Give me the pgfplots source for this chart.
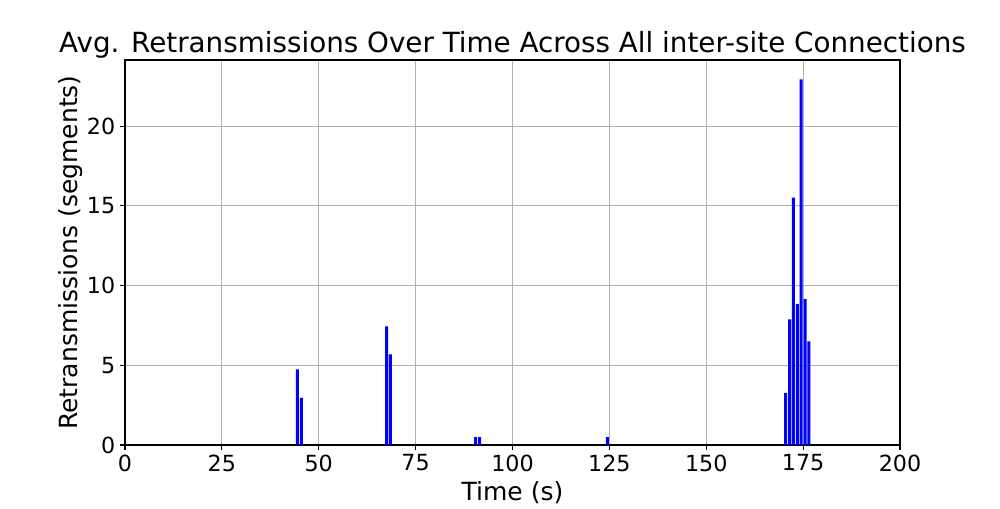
\documentclass[border=0pt]{standalone}
\usepackage{pgfplots}
\pgfplotsset{compat=1.18}
\usepackage{fontspec}
\setmainfont{DejaVu Sans}
\definecolor{gridgray}{HTML}{B0B0B0}
\begin{document}
\begin{tikzpicture}
\begin{axis}[
  name=ax,
  scale only axis,
  width=558pt, height=277.2pt,
  xmin=0, xmax=200, ymin=0, ymax=24.15,
  xtick={0,25,...,200}, ytick={0,5,10,15,20},
  grid=major,
  major grid style={gridgray, line width=0.8pt},
  axis line style={black, line width=0.8pt},
  tick style={black, line width=0.8pt},
  tick align=outside, tick pos=left,
  major tick length=3.5pt,
  ticklabel style={font=\fontsize{16}{19}\selectfont},
  /pgf/number format/assume math mode=true,
  xlabel={Time (s)}, ylabel={Retransmissions (segments)},
  label style={font=\fontsize{18}{21}\selectfont},
  title={Avg. Retransmissions Over Time Across All inter-site Connections},
  title style={font=\fontsize{20}{24}\selectfont, yshift=-8.5pt},
  xlabel style={yshift=0pt},
  ylabel style={yshift=-4pt},
  ybar, bar width=0.8, bar shift=0pt,
]
\addplot[fill=blue, draw=none] coordinates {
(44.5,4.75) (45.5,2.95)
(67.5,7.44) (68.5,5.68)
(90.5,0.5) (91.5,0.5)
(124.5,0.5)
(170.5,3.27) (171.5,7.88) (172.5,15.52) (173.5,8.85) (174.5,22.94) (175.5,9.15) (176.5,6.5)
};
\end{axis}
\path ([shift={(-90pt,-39.6pt)}]ax.south west) rectangle ++(720pt,360pt);
\end{tikzpicture}
\end{document}
